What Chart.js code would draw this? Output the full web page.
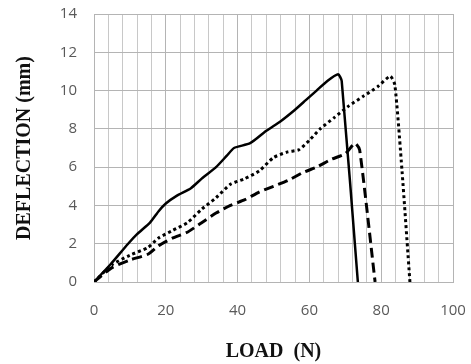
<!DOCTYPE html>
<html>
<head>
<meta charset="utf-8">
<script src="https://cdn.jsdelivr.net/npm/chart.js@4"></script>
<style>
  html, body { margin: 0; padding: 0; background: #fff; }
  #wrap { width: 471px; height: 364px; }
</style>
</head>
<body>
<div id="wrap"><canvas id="deflection-chart" width="471" height="364"></canvas></div>
<script>
// Load (N) / deflection (mm)
const solidLoad = [0, 4.5, 9.5, 12, 15.6, 18, 20, 23, 27, 30, 34, 37, 39, 43.5, 48, 52, 56, 59, 62, 65, 68, 69, 73.5];
const solidDefl = [0, 0.9, 2.0, 2.5, 3.1, 3.7, 4.1, 4.5, 4.9, 5.4, 6.0, 6.6, 7.0, 7.25, 7.9, 8.4, 9.0, 9.5, 10.0, 10.5, 10.85, 10.5, 0];

const dottedLoad = [0, 5, 10, 15, 18, 22, 26, 30, 34, 38, 42, 46, 50, 54, 57, 60, 63, 67, 71, 75, 79, 82.5, 83.8, 85.8, 88];
const dottedDefl = [0, 0.9, 1.4, 1.8, 2.3, 2.7, 3.1, 3.8, 4.4, 5.1, 5.4, 5.8, 6.5, 6.8, 6.9, 7.4, 8.0, 8.6, 9.2, 9.7, 10.2, 10.75, 10.3, 5.8, 0];

const dashedLoad = [0, 5, 10, 15, 18, 22, 26, 30, 34, 38, 42, 46, 50, 54, 58, 62, 66, 70, 72.7, 74, 78.3];
const dashedDefl = [0, 0.75, 1.15, 1.45, 1.9, 2.3, 2.6, 3.1, 3.6, 4.0, 4.3, 4.7, 5.0, 5.3, 5.7, 6.0, 6.4, 6.7, 7.25, 6.9, 0];

const xMin = 0, xMax = 100, xGrid = 4, xLabelStep = 20;
const yMin = 0, yMax = 14, yStep = 2;

const majorGrid = '#b4b4b4';
const minorGrid = '#c8c8c8';

function toPoints(xs, ys) {
  return xs.map((x, i) => ({ x: x, y: ys[i] }));
}

// draws the grid again from the scale ticks, under the lines
const gridLines = {
  id: 'gridLines',
  beforeDatasetsDraw(chart) {
    const { ctx, chartArea: a, scales: { x, y } } = chart;
    const align = p => Math.round(p - 0.5) + 0.5;
    ctx.save();
    ctx.lineWidth = 1;
    ctx.setLineDash([]);
    x.ticks.forEach(t => {
      const px = align(x.getPixelForValue(t.value));
      ctx.strokeStyle = t.value % xLabelStep === 0 ? majorGrid : minorGrid;
      ctx.beginPath(); ctx.moveTo(px, a.top); ctx.lineTo(px, a.bottom); ctx.stroke();
    });
    y.ticks.forEach(t => {
      const py = align(y.getPixelForValue(t.value));
      ctx.strokeStyle = majorGrid;
      ctx.beginPath(); ctx.moveTo(a.left, py); ctx.lineTo(a.right, py); ctx.stroke();
    });
    ctx.restore();
  }
};

new Chart(document.getElementById('deflection-chart'), {
  type: 'scatter',
  data: {
    datasets: [
      {
        data: toPoints(solidLoad, solidDefl),
        showLine: true,
        borderColor: '#000',
        borderWidth: 2.5,
        pointRadius: 0,
        tension: 0.2
      },
      {
        data: toPoints(dottedLoad, dottedDefl),
        showLine: true,
        borderColor: '#000',
        borderWidth: 3,
        borderDash: [3, 3],
        pointRadius: 0,
        tension: 0.2
      },
      {
        data: toPoints(dashedLoad, dashedDefl),
        showLine: true,
        borderColor: '#000',
        borderWidth: 3,
        borderDash: [10, 5],
        pointRadius: 0,
        tension: 0.2
      }
    ]
  },
  options: {
    responsive: false,
    animation: false,
    layout: { padding: { top: 14, right: 18, left: 0, bottom: 0 } },
    plugins: {
      legend: { display: false },
      tooltip: { enabled: false }
    },
    scales: {
      x: {
        min: xMin,
        max: xMax,
        afterFit: s => { s.height = 82; s.paddingLeft = 0; s.paddingRight = 0; },
        border: { color: majorGrid },
        grid: {
          color: c => (c.tick && c.tick.value % xLabelStep === 0) ? majorGrid : minorGrid,
          drawTicks: false
        },
        ticks: {
          stepSize: xGrid,
          autoSkip: false,
          maxRotation: 0,
          padding: 20,
          color: '#595959',
          font: { family: 'Open Sans', size: 15 },
          callback: v => (v % xLabelStep === 0 ? String(v) : '')
        },
        title: {
          display: true,
          text: 'LOAD  (N)',
          color: '#111',
          font: { family: 'Liberation Serif', size: 20, weight: 'bold' },
          padding: { top: 0, bottom: 0 }
        }
      },
      y: {
        min: yMin,
        max: yMax,
        afterFit: s => { s.width = 94; s.paddingTop = 0; s.paddingBottom = 0; },
        border: { color: majorGrid },
        grid: { color: majorGrid, drawTicks: false },
        ticks: {
          stepSize: yStep,
          padding: 17,
          color: '#595959',
          font: { family: 'Open Sans', size: 15 }
        },
        title: {
          display: true,
          text: 'DEFLECTION (mm)',
          color: '#111',
          font: { family: 'Liberation Serif', size: 20, weight: 'bold' },
          padding: { top: 13, bottom: 0 }
        }
      }
    }
  },
  plugins: [gridLines]
});
</script>
</body>
</html>
